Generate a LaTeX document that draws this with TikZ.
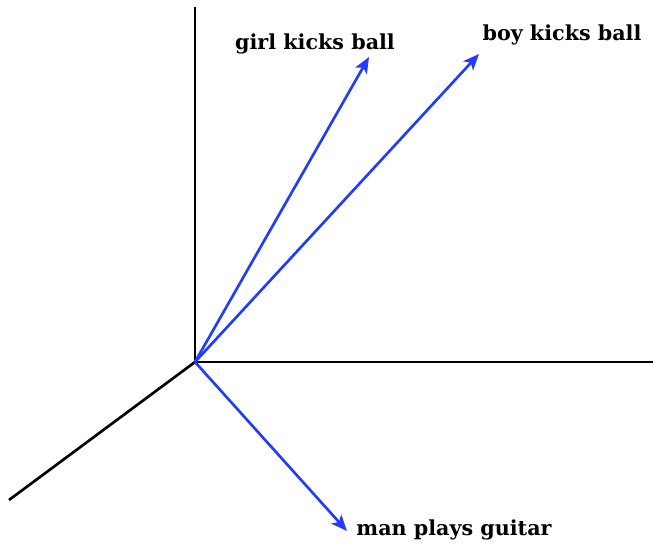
\documentclass[tikz,border=0pt]{standalone}
\usepackage{fontspec}
\setmainfont{DejaVu Serif}
\usetikzlibrary{arrows.meta}
\definecolor{vecblue}{RGB}{35,60,252}
\begin{document}
\begin{tikzpicture}[x=0.75pt,y=-0.75pt,
  axis/.style={black,line width=2pt},
  vec/.style={vecblue,line width=2pt,-{Stealth[length=12pt,width=10pt,inset=3pt]}},
  lbl/.style={font=\bfseries\fontsize{15.5}{18}\selectfont,inner sep=0pt}]
\useasboundingbox (0,0) rectangle (653,545);
\coordinate (o) at (195,362);
\coordinate (top) at (195,7);
\coordinate (right) at (653,362);
\coordinate (dl) at (9,500);
\draw[axis] (top) -- (o) -- (right);
\draw[axis] (o) -- (dl);
\node[lbl] (girl) at (315,44) {girl kicks ball};
\node[lbl] (boy) at (562,35) {boy kicks ball};
\node[lbl] (man) at (454,530) {man plays guitar};
\coordinate (g) at (369,57);
\coordinate (b) at (479,54);
\coordinate (m) at (347,531);
\draw[vec] (o) -- (g);
\draw[vec] (o) -- (b);
\draw[vec] (o) -- (m);
\end{tikzpicture}
\end{document}
